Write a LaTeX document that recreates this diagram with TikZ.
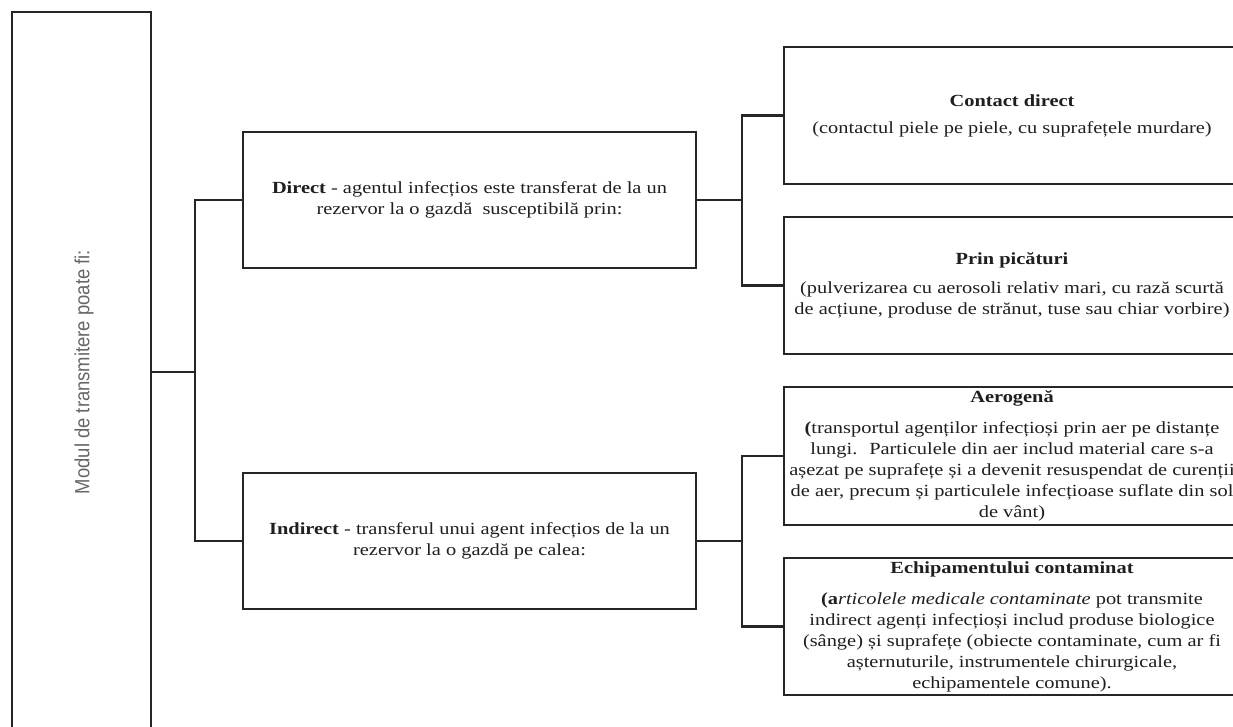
\documentclass[tikz,border=0pt]{standalone}
\usepackage{fontspec}
\setmainfont{Liberation Serif}[FakeStretch=1.2]
\newfontfamily\labelsans{Liberation Sans}
\begin{document}
\begin{tikzpicture}[x=1pt,y=-1pt,
  box/.style={draw=black!85,line width=2.2pt,rectangle,inner sep=0pt,align=center,
    text=black!88,font=\fontsize{17}{21}\selectfont},
  wire/.style={draw=black!85,line width=2.2pt}]
\useasboundingbox (0,0) rectangle (1233,726);
\fill[white] (0,0) rectangle (1233,726);
\clip (0,0) rectangle (1233,726);

% root box on the left, running off the lower edge
\node[box,minimum width=139pt,minimum height=720pt] (root) at (81.5,372) {};
\node[rotate=90,text=black!60,font=\labelsans\fontsize{20.5}{24}\selectfont,xscale=0.9] (roottxt) at (84,372)
  {Modul de transmitere poate fi:};

% second level
\node[box,minimum width=453pt,minimum height=136pt] (dir) at (469.5,200)
  {\textbf{Direct} - agentul infecțios este transferat de la un\\
   rezervor la o gazdă \ susceptibilă prin:};
\node[box,minimum width=453pt,minimum height=136pt] (ind) at (469.5,541)
  {\textbf{Indirect} - transferul unui agent infecțios de la un\\
   rezervor la o gazdă pe calea:};

% third level (right side runs past the frame)
\node[box,minimum width=456pt,minimum height=137pt] (c1) at (1012,115.5)
  {\textbf{Contact direct}\\[6pt]
   (contactul piele pe piele, cu suprafețele murdare)};
\node[box,minimum width=456pt,minimum height=137pt] (c2) at (1012,285.5)
  {\textbf{Prin picături}\\[8pt]
   (pulverizarea cu aerosoli relativ mari, cu rază scurtă\\
   de acțiune, produse de strănut, tuse sau chiar vorbire)};
\node[box,minimum width=456pt,minimum height=138pt] (c3) at (1012,456)
  {\textbf{Aerogenă}\\[10pt]
   \textbf{(}transportul agenților infecțioși prin aer pe distanțe\\
   lungi. \ Particulele din aer includ material care s-a\\
   așezat pe suprafețe și a devenit resuspendat de curenții\\
   de aer, precum și particulele infecțioase suflate din sol\\
   de vânt)};
\node[box,minimum width=456pt,minimum height=137pt] (c4) at (1012,626.5)
  {\textbf{Echipamentului contaminat}\\[10pt]
   \textbf{(a}{\itshape rticolele medicale contaminate} pot transmite\\
   indirect agenți infecțioși includ produse biologice\\
   (sânge) și suprafețe (obiecte contaminate, cum ar fi\\
   așternuturile, instrumentele chirurgicale,\\
   echipamentele comune).};

% connectors
\coordinate (j1) at (195,372);
\coordinate (j2) at (742,200);
\coordinate (j3) at (742,541);
\draw[wire] (root.east) -- (j1);
\draw[wire] (dir.west) -| (j1);
\draw[wire] (ind.west) -| (j1);
\draw[wire] (dir.east) -- (j2);
\draw[wire] (c1.west) -| (j2);
\draw[wire] (c2.west) -| (j2);
\draw[wire] (ind.east) -- (j3);
\draw[wire] (c3.west) -| (j3);
\draw[wire] (c4.west) -| (j3);
\end{tikzpicture}
\end{document}
